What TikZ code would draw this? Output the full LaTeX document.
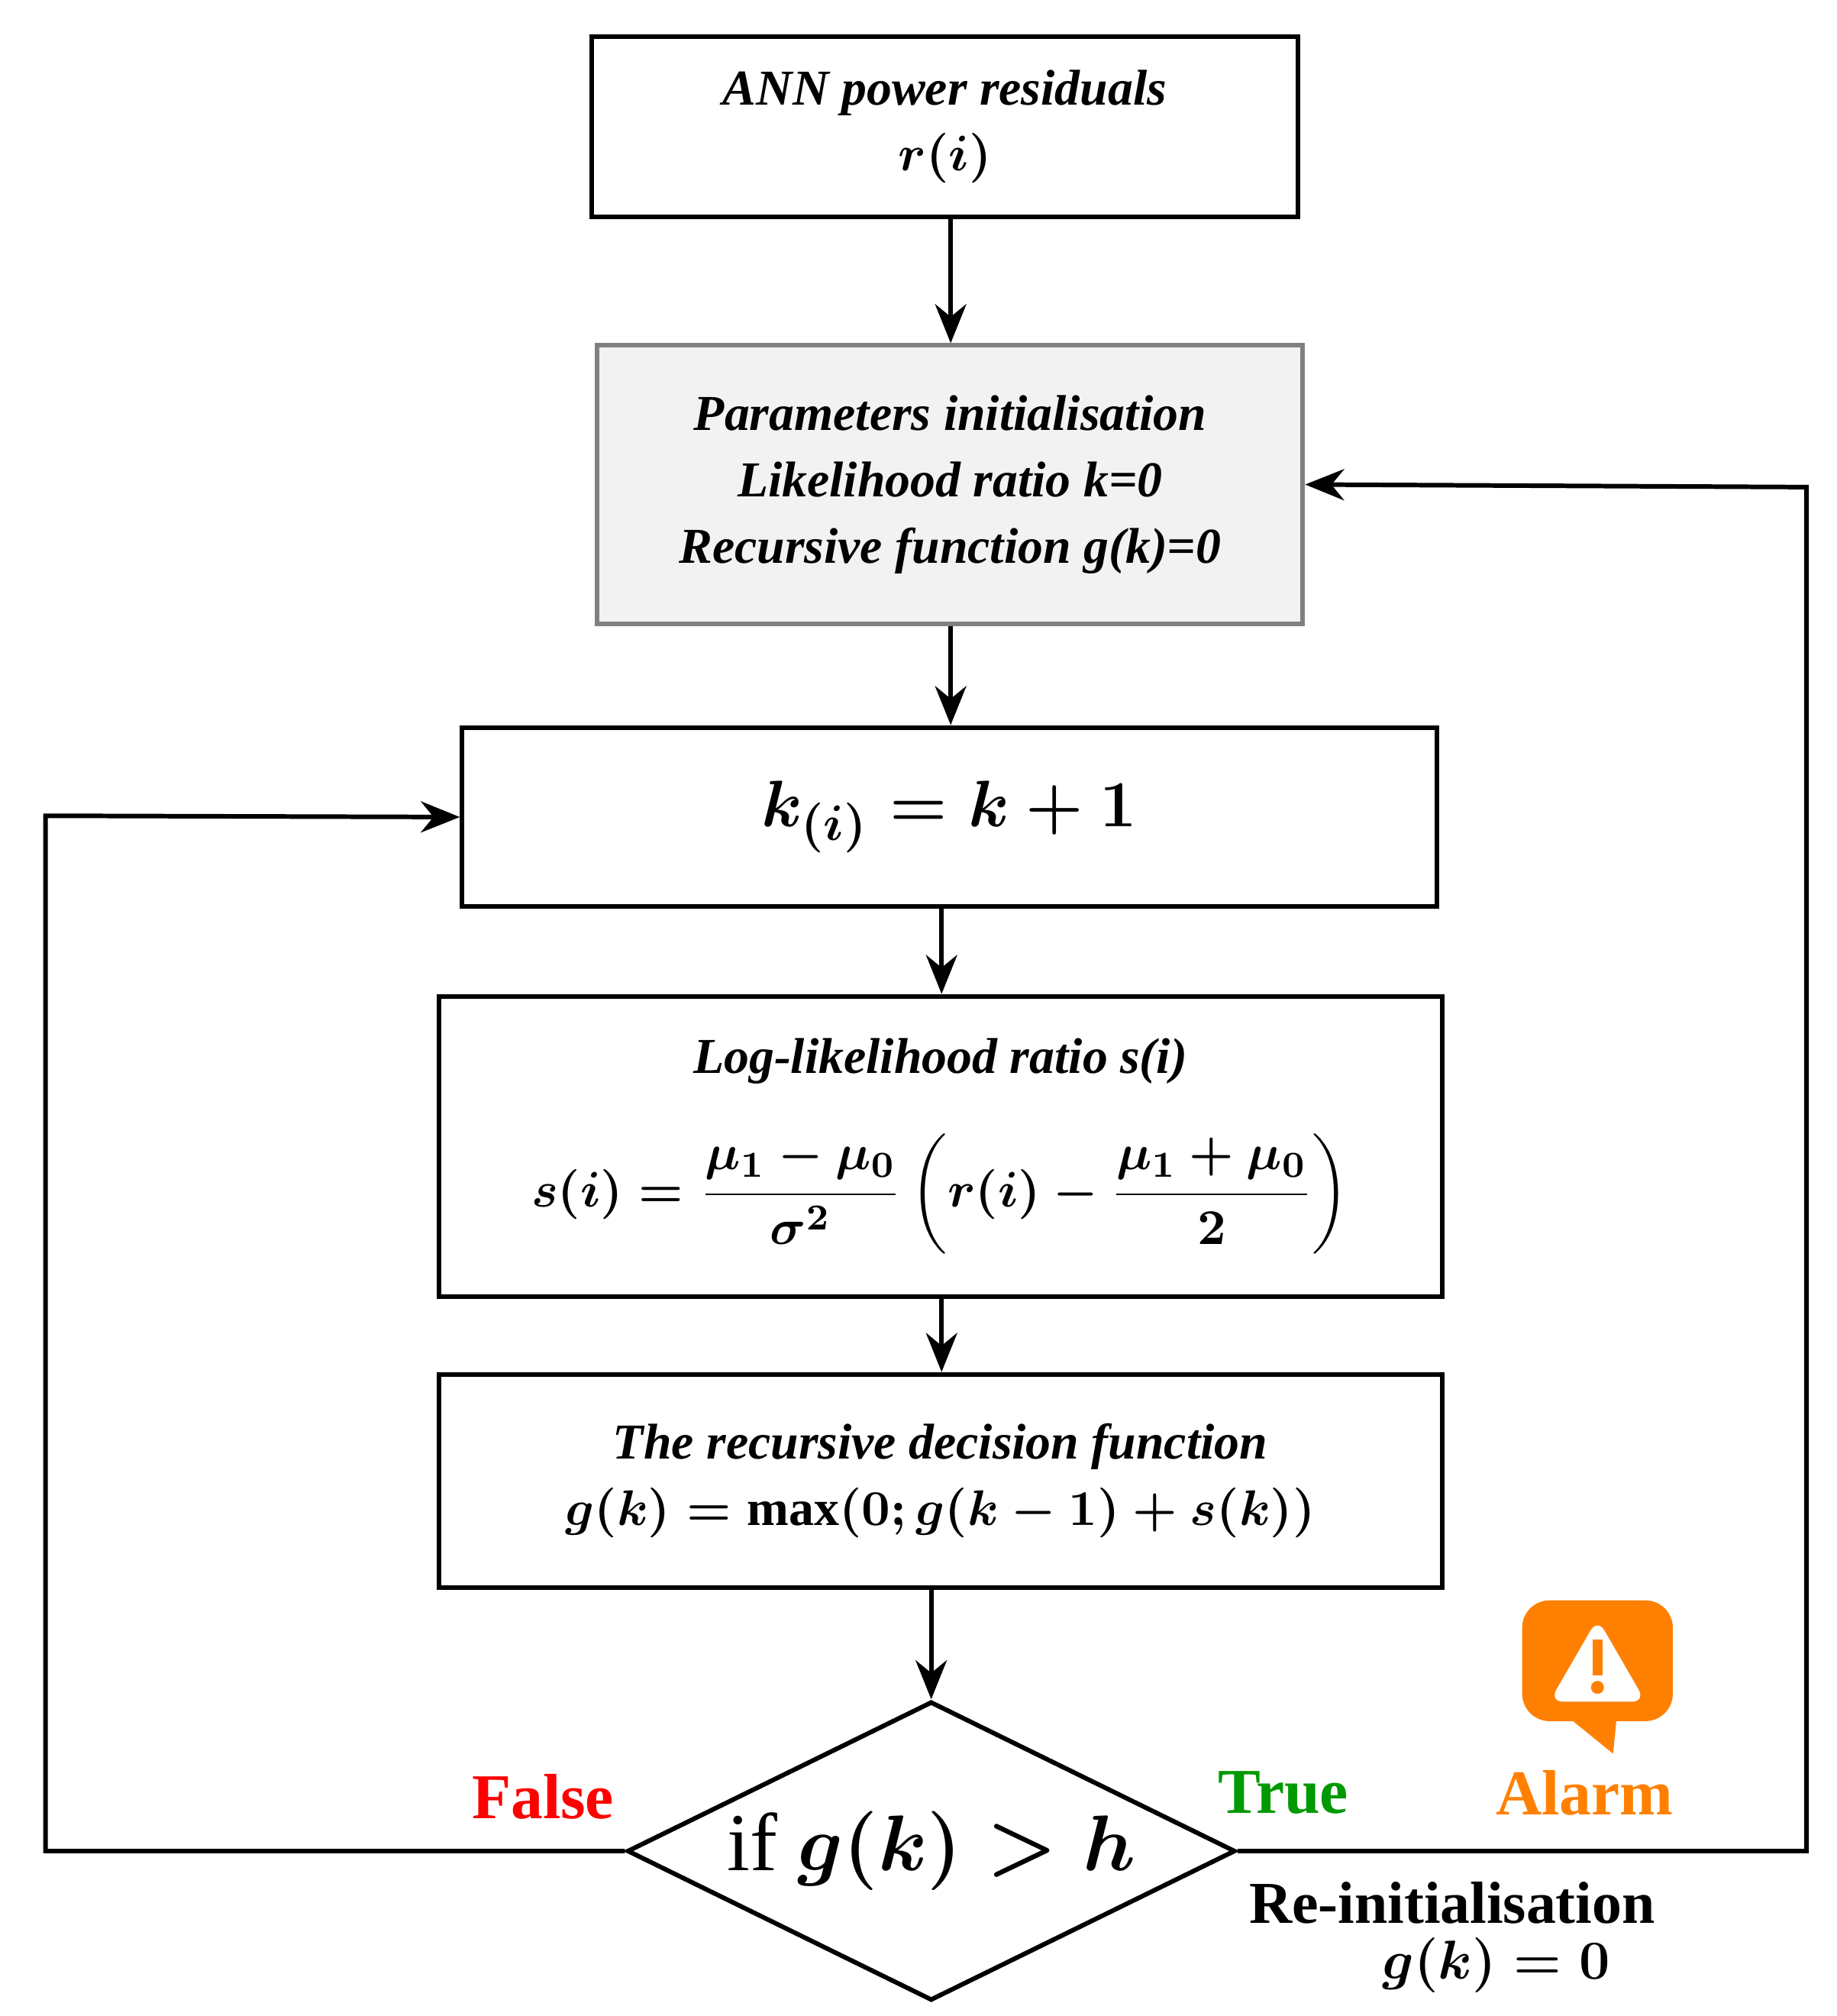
\documentclass[tikz,border=0pt]{standalone}
\usepackage{amsmath}
\usepackage{fontspec}
\setmainfont{Liberation Serif}
\usetikzlibrary{arrows.meta, shapes.geometric, calc}
\definecolor{boxgray}{RGB}{242,242,242}
\definecolor{alarmorange}{RGB}{255,128,0}
\definecolor{truegreen}{RGB}{0,153,0}
\begin{document}
\boldmath
\begin{tikzpicture}[x=0.01cm, y=-0.01cm,
    box/.style={draw, line width=1pt, inner sep=0pt, align=center, font=\bfseries\itshape\fontsize{11}{14.5}\selectfont},
    arr/.style={-{Stealth[length=3mm, width=2.4mm]}, line width=1pt},
    lbl/.style={font=\bfseries\fontsize{14}{16}\selectfont}
  ]
  \useasboundingbox (0,0) rectangle (1414,1552);

  \node[box, minimum width=5.43cm, minimum height=1.39cm] (res) at (727.5,97.5)
    {ANN power residuals\\ $r(i)$};
  \node[box, draw=gray, fill=boxgray, minimum width=5.43cm, minimum height=2.14cm] (init) at (731.5,373)
    {Parameters initialisation\\ Likelihood ratio k=0\\ Recursive function g(k)=0};
  \node[box, minimum width=7.5cm, minimum height=1.38cm] (inc) at (731,629)
    {\fontsize{15}{18}\selectfont $k_{(i)} = k+1$};
  \node[box, minimum width=7.72cm, minimum height=2.31cm] (llr) at (724,882.5)
    {Log-likelihood ratio s(i)\\[10pt]
     \upshape $\displaystyle s(i)=\frac{\mu_1-\mu_0}{\sigma^2}\left(r(i)-\frac{\mu_1+\mu_0}{2}\right)$};
  \node[box, minimum width=7.72cm, minimum height=1.64cm] (dec) at (724,1140)
    {The recursive decision function\\ \upshape $g(k)=\max(0;g(k-1)+s(k))$};
  \node[diamond, aspect=2.03, draw, line width=1pt, minimum width=4.68cm, minimum height=2.3cm, inner sep=0pt,
        font=\fontsize{18}{20}\selectfont] (cond) at (717,1425) {\upshape if $g(k)>h$};

  \coordinate (lb) at (35,1425);
  \coordinate (lt) at (35,628);
  \coordinate (rb) at (1391,1425);
  \coordinate (rt) at (1391,375);

  \draw[arr] (res.south -| 732,0) -- (init.north -| 732,0);
  \draw[arr] (init.south -| 732,0) -- (inc.north -| 732,0);
  \draw[arr] (inc.south -| 725,0) -- (llr.north -| 725,0);
  \draw[arr] (llr.south -| 725,0) -- (dec.north -| 725,0);
  \draw[arr] (dec.south -| 717,0) -- (cond.north);
  \draw[arr] (cond.west) -- (lb) -- (lt) -- (inc.west);
  \draw[arr] (cond.east) -- (rb) -- (rt) -- (init.east);

  \node[lbl, text=red] (f) at (418,1383) {False};
  \node[lbl, text=truegreen] (t) at (988,1380) {True};
  \node[lbl, text=alarmorange] (a) at (1220,1380) {Alarm};
  \node[font=\bfseries\fontsize{13}{15}\selectfont] (re) at (1118,1465) {Re-initialisation};
  \node[font=\fontsize{13}{15}\selectfont] (g0) at (1152,1513) {$g(k)=0$};

  % alarm icon
  \fill[alarmorange, rounded corners=6] (1172,1232) rectangle (1288,1325);
  \fill[alarmorange] (1205,1320) -- (1245,1320) -- (1242,1350) -- cycle;
  \fill[white, rounded corners=3] (1230,1246) -- (1267,1310) -- (1193,1310) -- cycle;
  \fill[alarmorange] (1226,1262) rectangle (1234,1290);
  \fill[alarmorange] (1230,1299) circle (5);
\end{tikzpicture}
\end{document}
